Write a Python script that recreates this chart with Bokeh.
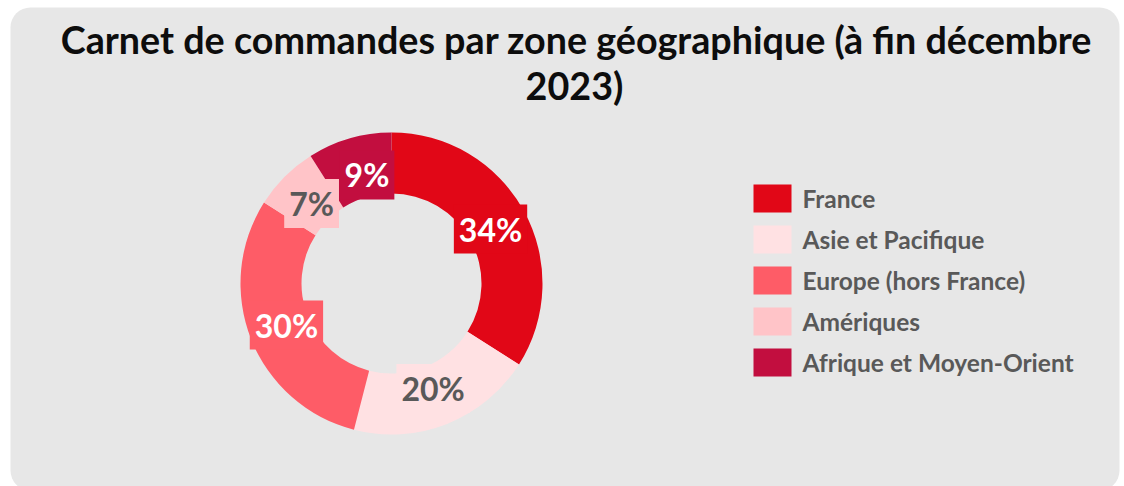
import numpy as np
from bokeh.plotting import figure
from bokeh.models import Range1d, BoxAnnotation, ColumnDataSource
from bokeh.core.properties import value
from bokeh.embed import file_html
from bokeh.resources import INLINE

# ---- data ----
title_lines = ["Carnet de commandes par zone géographique (à fin décembre", "2023)"]
zones = ["France", "Asie et Pacifique", "Europe (hors France)", "Amériques", "Afrique et Moyen-Orient"]
shares = [34, 20, 30, 7, 9]
colors = ["#e10717", "#ffe1e3", "#fe5c67", "#ffc4c8", "#c20e3f"]
label_colors = ["#ffffff", "#595959", "#ffffff", "#595959", "#ffffff"]

# ---- layout ----
W, H = 1124, 486
def X(ix): return ix
def Y(iy): return H - iy

p = figure(width=W, height=H, x_range=Range1d(0, W), y_range=Range1d(0, H),
           x_axis_type=None, y_axis_type=None, toolbar_location=None,
           output_backend="svg", min_border=0, outline_line_color=None,
           background_fill_color="white", border_fill_color="white")
p.grid.visible = False

p.add_layout(BoxAnnotation(left=X(10), right=X(1119), top=Y(7), bottom=Y(490),
                           fill_color="#e7e7e7", fill_alpha=1, line_color=None,
                           border_radius=20, level="underlay"))

font = value("Lato")

# title
p.text(x=[X(576), X(574)], y=[Y(39), Y(85)], text=title_lines,
       text_font=font, text_font_style="bold", text_font_size="37.7px",
       text_color="#0d0d0d", text_align="center", text_baseline="middle")

# donut
cx, cy = X(391), Y(283)
r_in, r_out = 90, 151
vals = np.array(shares, dtype=float)
frac = vals / vals.sum()
cum = np.concatenate([[0], np.cumsum(frac)])
start = np.pi / 2 - cum[:-1] * 2 * np.pi
end = np.pi / 2 - cum[1:] * 2 * np.pi
mid = (start + end) / 2
src = ColumnDataSource(dict(start=start, end=end, color=colors))
p.annular_wedge(x=cx, y=cy, inner_radius=r_in, outer_radius=r_out,
                start_angle="start", end_angle="end", direction="clock",
                fill_color="color", line_color=None, source=src)

# data labels
r_lab = 113
nudge_x = [0, 0, 0, 0, 7]
lx = cx + r_lab * np.cos(mid) + np.array(nudge_x)
ly = cy + r_lab * np.sin(mid)
lsrc = ColumnDataSource(dict(x=lx, y=ly, t=[f"{v}%" for v in shares],
                             c=label_colors, bg=colors))
p.text(x="x", y="y", text="t", source=lsrc, text_font=font, text_font_style="bold",
       text_font_size="32px", text_color="c", text_align="center",
       text_baseline="middle", background_fill_color="bg", padding=5)

# legend
ys = [Y(198 + 41 * i) for i in range(len(zones))]
p.rect(x=[X(772)] * len(zones), y=ys, width=38, height=28,
       width_units="screen", height_units="screen", fill_color=colors, line_color=None)
p.text(x=[X(802)] * len(zones), y=ys, text=zones, text_font=font,
       text_font_style="bold", text_font_size="24.5px", text_color="#595959",
       text_align="left", text_baseline="middle")

open("out.html", "w").write(file_html(p, INLINE))
